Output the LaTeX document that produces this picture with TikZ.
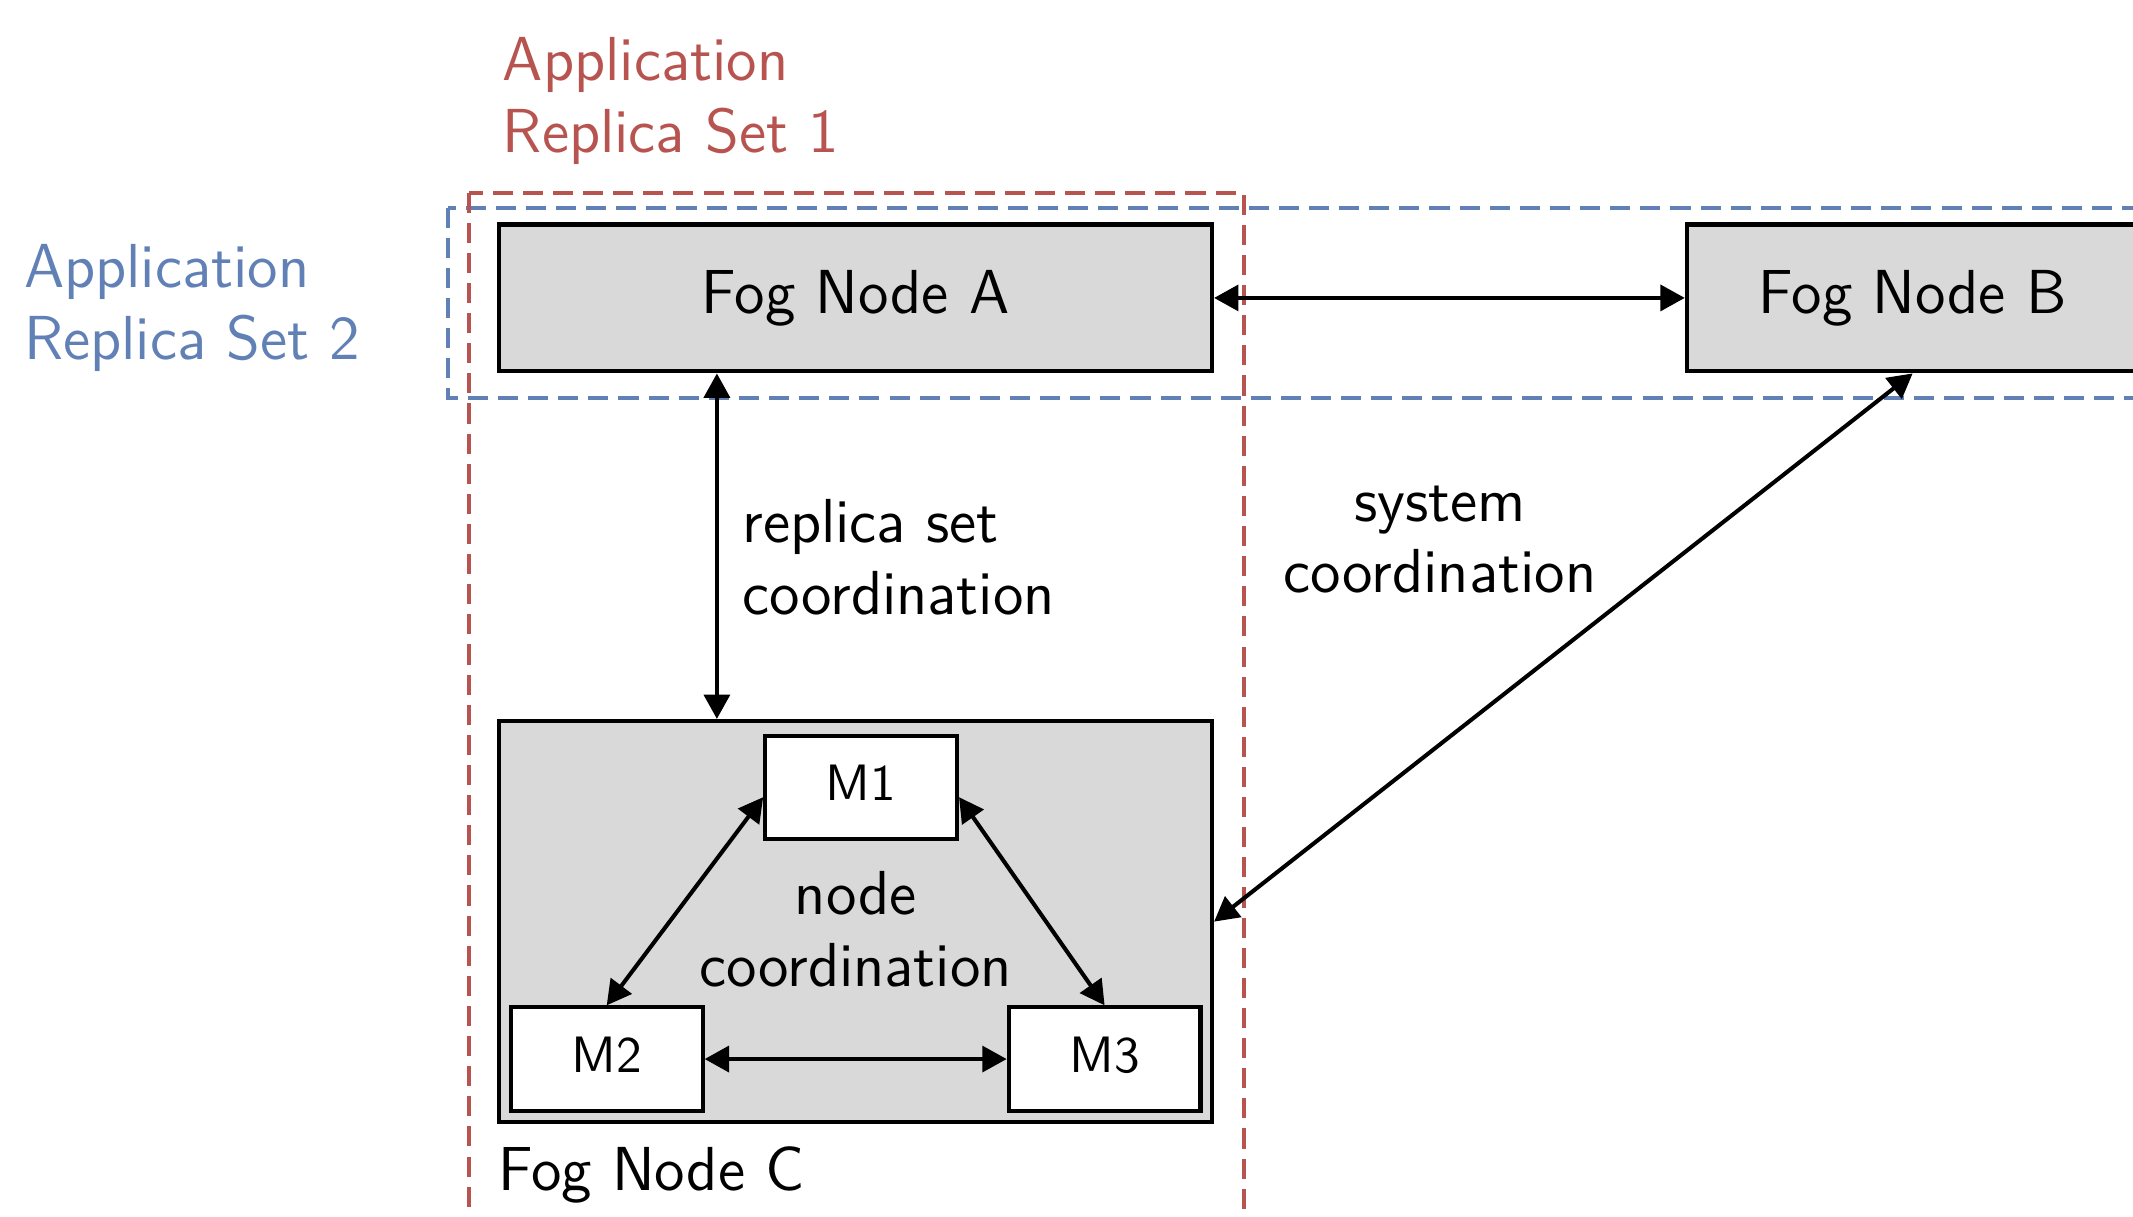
\documentclass[tikz,border=0pt]{standalone}
\usepackage{fontspec}
\usepackage{xcolor}
\usepackage{tikz}
\usetikzlibrary{arrows.meta}
\definecolor{setred}{HTML}{B85450}
\definecolor{setblue}{HTML}{6181B6}
\definecolor{foggray}{HTML}{D9D9D9}

\begin{document}
\begin{tikzpicture}[font=\sffamily\fontsize{13}{15}\selectfont,
        fognode/.style={rectangle, draw, line width=0.85pt, fill=foggray, inner sep=0pt, minimum width=5.24cm, minimum height=1.08cm},
        member/.style={rectangle, draw, line width=0.85pt, fill=white, inner sep=0pt, minimum width=1.41cm, minimum height=0.76cm, text depth=2pt, font=\sffamily\fontsize{10.7}{12.8}\selectfont},
        setbox/.style={line width=0.85pt, dash pattern=on 4.2pt off 2.1pt},
        textlabel/.style={inner sep=0pt},
        link/.style={<->, line width=0.85pt},
        >={Triangle[length=5.1pt, width=5.4pt]}]
        \useasboundingbox (0,0) rectangle (15.68,-8.94);
        \clip (0,0) rectangle (15.68,-8.94);

        % Replica sets
        \draw [setbox, setblue] (3.29,-1.527) rectangle (16.2,-2.928);
        \draw [setbox, setred] (3.448,-1.416) rectangle (9.142,-9.5);
        \node [textlabel, anchor=west, align=left, text=setred] (set1) at (3.69,-0.741) {Application\\Replica Set 1};
        \node [textlabel, anchor=west, align=left, text=setblue] (set2) at (0.17,-2.265) {Application\\Replica Set 2};

        % Nodes
        \node [fognode] (fogA) at (6.29,-2.19) {Fog Node A};
        \node [fognode, minimum width=3.32cm] (fogB) at (14.06,-2.19) {Fog Node B};
        \node [fognode, minimum height=2.95cm] (fogC) at (6.29,-6.775) {};
        \node [textlabel, anchor=base west] (fogClabel) at ([xshift=0.0cm, yshift=-0.486cm]fogC.south west) {Fog Node C};
        \node [member] (m1) at (6.33,-5.79) {M1};
        \node [member] (m2) at (4.46,-7.785) {M2};
        \node [member] (m3) at (8.12,-7.785) {M3};

        % Labels
        \node [textlabel, anchor=west, align=left] (replicacoord) at (5.45,-4.094) {replica set\\coordination};
        \node [textlabel, align=center] (systemcoord) at (10.585,-3.966) {system\\coordination};
        \node [textlabel, align=center] (nodecoord) at (6.29,-6.832) {node\\coordination};

        % Arrows
        \path [draw, link] (fogA) -- (fogB);
        \path [draw, link] ([xshift=-1.02cm]fogA.south) -- ([xshift=-1.02cm]fogC.north);
        \path [draw, link] (fogB.south) -- (fogC.east);
        \path [draw, link] ([yshift=-0.07cm]m1.west) -- (m2.north);
        \path [draw, link] ([yshift=-0.07cm]m1.east) -- (m3.north);
        \path [draw, link] (m2) -- (m3);
    \end{tikzpicture}
\end{document}
